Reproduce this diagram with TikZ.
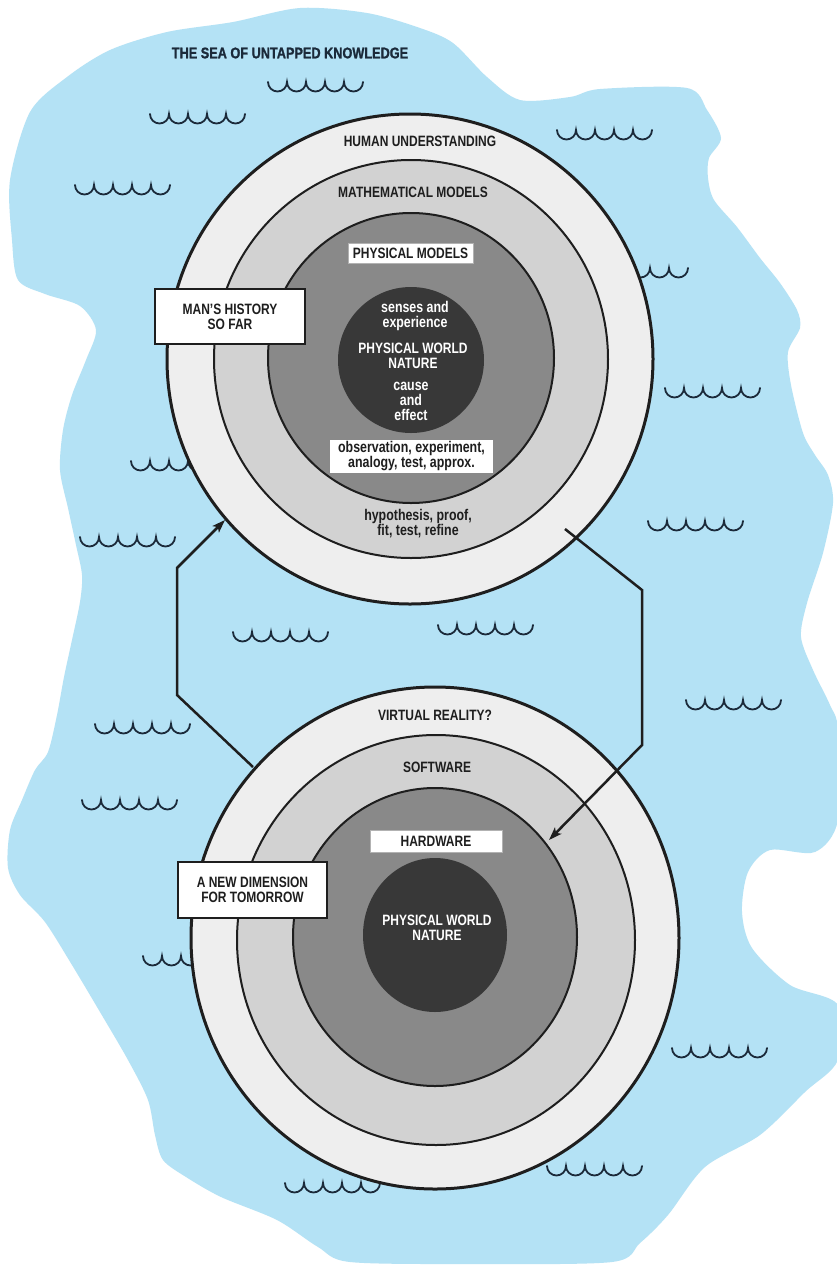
\documentclass[tikz,border=0pt]{standalone}
\usepackage{fontspec}
\newfontfamily\labelfont[FakeStretch=0.8]{Liberation Sans}
\newfontfamily\titlefont[FakeStretch=0.82,FakeBold=1.2]{Liberation Sans Bold}
\usetikzlibrary{arrows.meta}

\definecolor{sea}{HTML}{B4E2F5}
\definecolor{ink}{HTML}{1E1E1E}
\definecolor{navy}{HTML}{1B2A3A}
\definecolor{ringA}{HTML}{EEEEEE}
\definecolor{ringB}{HTML}{D2D2D2}
\definecolor{ringC}{HTML}{898989}
\definecolor{core}{HTML}{383838}

\tikzset{
  wavestroke/.style={draw=navy, line width=1.8pt, line cap=round},
  rim/.style={draw=ink, line width=3pt},
  ringline/.style={draw=ink, line width=2pt},
  caps/.style={font=\labelfont\bfseries\fontsize{15}{15}\selectfont, text=ink, align=center, inner sep=0pt},
  lower/.style={font=\labelfont\bfseries\fontsize{15.5}{15}\selectfont, text=ink, align=center, inner sep=0pt},
  tag/.style={caps, fill=white, draw=gray!60, line width=0.6pt},
  framebox/.style={caps, fill=white, draw=ink, line width=2.5pt},
  flow/.style={draw=ink, line width=2.5pt, line join=miter, -{Stealth[length=13pt,width=9pt,inset=3pt]}},
}

% a row of little cups standing for waves: left x, top y, number of cups
\newcommand\seawave[3]{\draw[wavestroke] (#1,#2) \foreach \wv in {1,...,#3}{arc[start angle=180,end angle=360,radius=9.5pt]};}

\begin{document}
\begin{tikzpicture}[x=1pt,y=-1pt]
\useasboundingbox (0,0) rectangle (836,1267);
\fill[white] (0,0) rectangle (836,1267);

% the sea
\fill[sea] plot[smooth cycle, tension=0.5] coordinates {
 (10,180) (30,112) (67,77) (110,50) (167,32) (233,22) (300,8) (367,13) (420,28)
 (453,43) (487,77) (520,100) (570,97) (600,89) (687,88) (707,110) (721,138)
 (709,158) (708,178) (714,200) (737,227) (760,258) (780,283) (797,310) (800,328)
 (788,352) (791,385) (803,433) (815,455) (828,475) (833,503) (823,553) (807,603)
 (801,637) (813,670) (830,705) (838,730) (838,820) (815,852) (770,850) (748,872)
 (742,912) (752,948) (790,985) (838,1005) (838,1060) (805,1092) (760,1135)
 (705,1167) (668,1215) (640,1243) (612,1262) (470,1264) (350,1262) (318,1247)
 (277,1220) (221,1197) (186,1177) (163,1160) (155,1135) (148,1100) (128,1060)
 (100,1012) (72,965) (45,922) (20,895) (8,868) (10,830) (22,800) (35,770)
 (48,752) (57,715) (64,677) (72,640) (80,602) (82,575) (76,545) (68,508)
 (60,470) (63,430) (72,395) (86,360) (96,330) (80,306) (45,294) (18,280) (12,240)};

\node[font=\titlefont\fontsize{15.5}{15.5}\selectfont, text=navy, inner sep=0pt] (title) at (290,53) {THE SEA OF UNTAPPED KNOWLEDGE};

% waves
\seawave{268}{82}{5}
\seawave{150}{114}{5}
\seawave{75}{185}{5}
\seawave{557}{130}{5}
\seawave{593}{268}{5}
\seawave{665}{388}{5}
\seawave{131}{461}{5}
\seawave{80}{537}{5}
\seawave{648}{521}{5}
\seawave{233}{632}{5}
\seawave{438}{625}{5}
\seawave{686}{700}{5}
\seawave{95}{724}{5}
\seawave{82}{800}{5}
\seawave{143}{956}{5}
\seawave{672}{1048}{5}
\seawave{547}{1166}{5}
\seawave{285}{1183}{5}

% upper rings
\path[fill=ringA, rim] (410,359) ellipse[x radius=243pt, y radius=245pt];
\path[fill=ringB, ringline] (411,359) ellipse[x radius=197pt, y radius=199pt];
\path[fill=ringC, ringline] (411,358) ellipse[x radius=143pt, y radius=145pt];
\path[fill=core] (411,360) ellipse[x radius=73pt, y radius=73pt];

% lower rings
\path[fill=ringA, rim] (435,938) ellipse[x radius=244pt, y radius=251pt];
\path[fill=ringB, ringline] (436,940) ellipse[x radius=199pt, y radius=205pt];
\path[fill=ringC, ringline] (435,937) ellipse[x radius=142pt, y radius=149pt];
\path[fill=core] (435,935) ellipse[x radius=72pt, y radius=77pt];

% upper labels
\node[caps] (human) at (420,141) {HUMAN UNDERSTANDING};
\node[caps] (math) at (413,192) {MATHEMATICAL MODELS};
\node[tag, minimum width=125pt, minimum height=20pt] (physmod) at (410.5,253) {PHYSICAL MODELS};
\node[lower, text=white] (senses) at (415,316) {senses and\\experience};
\node[caps, text=white] (world) at (413,356) {PHYSICAL WORLD\\NATURE};
\node[lower, text=white] (cause) at (411,401) {cause\\and\\effect};
\node[lower, fill=white, minimum width=163pt, minimum height=33pt] (observ) at (411.5,456.5) {observation, experiment,\\analogy, test, approx.};
\node[lower] (hypo) at (418,524) {hypothesis, proof,\\fit, test, refine};

% lower labels
\node[caps] (virtual) at (435,715) {VIRTUAL REALITY?};
\node[caps] (soft) at (437,767) {SOFTWARE};
\node[tag, minimum width=132pt, minimum height=22pt] (hard) at (436,841) {HARDWARE};
\node[caps, text=white] (world2) at (437,928) {PHYSICAL WORLD\\NATURE};

% connectors between the two ring systems
\coordinate (upIn) at (225,520);
\coordinate (lowOut) at (253,767);
\coordinate (upOut) at (565,529);
\coordinate (lowIn) at (549,840);
\draw[flow] (lowOut) -- (177,695) -- (177,568) -- (upIn);
\draw[flow] (upOut) -- (642,590) -- (642,745) -- (lowIn);

% side captions
\node[framebox, minimum width=150pt, minimum height=55pt] (history) at (230,316.5) {MAN’S HISTORY\\SO FAR};
\node[framebox, minimum width=149pt, minimum height=56pt] (tomorrow) at (252.5,890) {A NEW DIMENSION\\FOR TOMORROW};
\end{tikzpicture}
\end{document}
